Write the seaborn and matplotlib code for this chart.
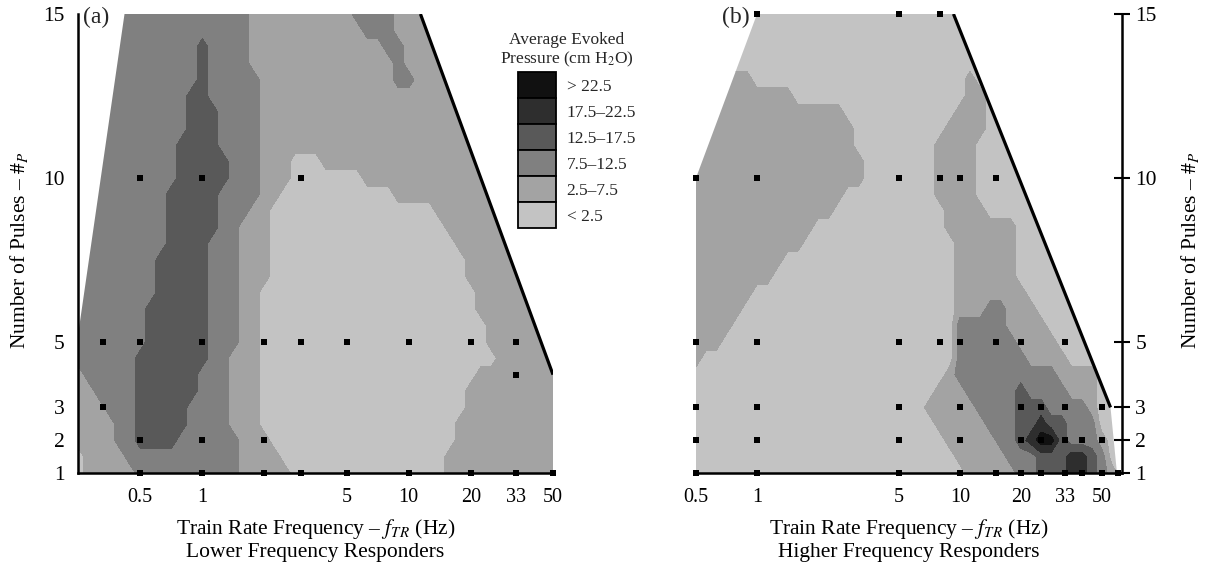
import numpy as np
import pandas as pd
import matplotlib
matplotlib.use("Agg")
import matplotlib.pyplot as plt
from matplotlib.patches import Polygon, Patch
from matplotlib.ticker import NullLocator
import seaborn as sns

sns.set_theme(style="white")
plt.rcParams["font.family"] = ["Liberation Serif", "DejaVu Serif"]
plt.rcParams["mathtext.fontset"] = "stix"

# ---------------- data ----------------
legend_labels = ["> 22.5", "17.5–22.5", "12.5–17.5", "7.5–12.5", "2.5–7.5", "< 2.5"]
pressure_bounds = [-5, 2.5, 7.5, 12.5, 17.5, 22.5, 30]
class_pressure = [0.0, 5.0, 10.0, 15.0, 20.0, 25.0]   # pressure class 0..5 (cm H2O)
gray_levels = ["#c3c3c3", "#a3a3a3", "#808080", "#595959", "#2e2e2e", "#111111"]

x_ticks = [0.5, 1, 5, 10, 20, 33, 50]
x_ticklabels = ["0.5", "1", "5", "10", "20", "33", "50"]
y_ticks = [1, 2, 3, 5, 10, 15]

grid_pulses = np.linspace(15, 1, 29)                 # rows, top to bottom
grid_freq_a = 10 ** np.linspace(-0.60, 1.70, 47)     # columns, panel (a)
grid_freq_b = 10 ** np.linspace(-0.30, 1.80, 43)     # columns, panel (b)

# pressure class read at each grid node (row = number of pulses, col = frequency)
pressure_class_a = [
    "2"*17 + "1"*10 + "2"*4 + "1"*16,
    "2"*17 + "1"*11 + "2"*3 + "1"*16,
    "2"*12 + "3" + "2"*4 + "1"*13 + "2"*2 + "1"*15,
    "2"*12 + "3" + "2"*4 + "1"*14 + "2" + "1"*15,
    "2"*12 + "3" + "2"*5 + "1"*13 + "2"*2 + "1"*14,
    "2"*11 + "3"*2 + "2"*5 + "1"*29,
    "2"*11 + "3"*3 + "2"*4 + "1"*29,
    "2"*11 + "3"*3 + "2"*4 + "1"*29,
    "2"*10 + "3"*4 + "2"*4 + "1"*29,
    "2"*10 + "3"*5 + "2"*3 + "1"*3 + "0"*3 + "1"*23,
    "2"*10 + "3"*5 + "2"*3 + "1"*3 + "0"*7 + "1"*19,
    "2"*9 + "3"*5 + "2"*4 + "1"*2 + "0"*11 + "1"*16,
    "2"*9 + "3"*5 + "2"*3 + "1"*2 + "0"*16 + "1"*12,
    "2"*9 + "3"*5 + "2"*2 + "1"*3 + "0"*17 + "1"*11,
    "2"*9 + "3"*4 + "2"*3 + "1"*3 + "0"*18 + "1"*10,
    "2"*8 + "3"*5 + "2"*3 + "1"*3 + "0"*19 + "1"*9,
    "2"*8 + "3"*5 + "2"*3 + "1"*3 + "0"*19 + "1"*9,
    "2"*8 + "3"*5 + "2"*3 + "1"*2 + "0"*21 + "1"*8,
    "2"*7 + "3"*6 + "2"*3 + "1"*2 + "0"*21 + "1"*8,
    "2"*7 + "3"*6 + "2"*3 + "1"*2 + "0"*22 + "1"*7,
    "2"*7 + "3"*6 + "2"*3 + "1"*2 + "0"*22 + "1"*7,
    "2"*6 + "3"*7 + "2"*2 + "1"*3 + "0"*23 + "1"*6,
    "1" + "2"*5 + "3"*6 + "2"*3 + "1"*3 + "0"*21 + "1"*8,
    "1"*2 + "2"*4 + "3"*6 + "2"*3 + "1"*3 + "0"*20 + "1"*9,
    "1"*3 + "2"*3 + "3"*5 + "2"*4 + "1"*3 + "0"*20 + "1"*9,
    "1"*4 + "2"*2 + "3"*5 + "2"*4 + "1"*3 + "0"*19 + "1"*10,
    "1"*4 + "2"*2 + "3"*4 + "2"*6 + "1"*3 + "0"*18 + "1"*10,
    "0" + "1"*4 + "2"*11 + "1"*4 + "0"*16 + "1"*11,
    "0" + "1"*5 + "2"*10 + "1"*5 + "0"*15 + "1"*11,
]
pressure_class_b = [
    "0"*43, "0"*43, "0"*43, "0"*43,
    "1"*6 + "0"*21 + "1" + "0"*15,
    "1"*10 + "0"*17 + "1"*2 + "0"*14,
    "1"*15 + "0"*11 + "1"*3 + "0"*14,
    "1"*16 + "0"*9 + "1"*4 + "0"*14,
    "1"*16 + "0"*8 + "1"*4 + "0"*15,
    "1"*17 + "0"*7 + "1"*4 + "0"*15,
    "1"*17 + "0"*7 + "1"*4 + "0"*15,
    "1"*15 + "0"*9 + "1"*4 + "0"*15,
    "1"*14 + "0"*11 + "1"*4 + "0"*14,
    "1"*12 + "0"*13 + "1"*7 + "0"*11,
    "1"*11 + "0"*15 + "1"*6 + "0"*11,
    "1"*9 + "0"*17 + "1"*6 + "0"*11,
    "1"*8 + "0"*18 + "1"*6 + "0"*11,
    "1"*6 + "0"*20 + "1"*7 + "0"*10,
    "1"*5 + "0"*21 + "1"*3 + "2"*2 + "1"*3 + "0"*9,
    "1"*4 + "0"*22 + "2"*5 + "1"*4 + "0"*8,
    "1"*3 + "0"*23 + "2"*6 + "1"*4 + "0"*7,
    "1" + "0"*25 + "2"*7 + "1"*4 + "0"*6,
    "0"*25 + "1" + "2"*10 + "1"*4 + "0"*3,
    "0"*24 + "1"*3 + "2"*5 + "3" + "2"*4 + "1"*3 + "0"*3,
    "0"*23 + "1"*5 + "2"*4 + "3"*3 + "2"*4 + "1" + "0"*3,
    "0"*24 + "1"*5 + "2"*3 + "3"*2 + "4" + "3"*2 + "2"*3 + "0"*3,
    "0"*25 + "1"*5 + "2"*2 + "3" + "4" + "5"*2 + "3" + "2"*3 + "1" + "0"*2,
    "0"*26 + "1"*5 + "2"*3 + "3"*3 + "4"*2 + "3" + "2" + "0"*2,
    "0"*27 + "1"*5 + "2"*2 + "3"*3 + "4"*2 + "3" + "2" + "1" + "0",
]

# tested parameter region (hull) and the upper stimulation limit line
hull_a_freq = [0.42, 0.25, 0.25, 50, 50, 11.4]
hull_a_pulses = [15, 5.2, 1, 1, 4.0, 15]
limit_a_freq = [11.4, 50]
limit_a_pulses = [15, 4.0]
hull_b_freq = [1.0, 0.5, 0.5, 59.5, 55.3, 9.3]
hull_b_pulses = [15, 10, 1, 1, 3, 15]
limit_b_freq = [9.3, 55.3]
limit_b_pulses = [15, 3]

# tested stimulation points: pulses -> frequencies
samples_a = {
    10: [0.5, 1, 3],
    5: [0.33, 0.5, 1, 2, 3, 5, 10, 20, 33],
    4: [33],
    3: [0.33],
    2: [0.5, 1, 2],
    1: [0.5, 1, 2, 3, 5, 10, 20, 33, 50],
}
samples_b = {
    15: [1, 5, 8],
    10: [0.5, 1, 5, 8, 10, 15],
    5: [0.5, 1, 5, 8, 10, 15, 20, 33],
    3: [0.5, 1, 5, 10, 20, 25, 33, 50],
    2: [0.5, 1, 5, 10, 20, 25, 33, 40, 50],
    1: [0.5, 1, 5, 10, 15, 20, 25, 33, 40, 50, 60],
}

# ---------------- figure ----------------
W, H = 1209, 574
fig = plt.figure(figsize=(W / 100, H / 100), dpi=100)
fig.patch.set_facecolor("white")
ax_a = fig.add_axes([78 / W, 1 - 473 / H, (553 - 78) / W, (473 - 14) / H])
ax_b = fig.add_axes([696 / W, 1 - 473 / H, (1122 - 696) / W, (473 - 14) / H])


def draw_panel(ax, freqs, rows, hull_f, hull_p, lim_f, lim_p, samples, xlim):
    ax.set_xscale("log")
    Z = np.array([[class_pressure[int(c)] for c in row] for row in rows])
    cs = ax.contourf(freqs, grid_pulses[::-1], Z[::-1], levels=pressure_bounds,
                     colors=gray_levels, zorder=1, antialiased=False)
    clip = Polygon(np.column_stack([hull_f, hull_p]), closed=True,
                   transform=ax.transData, facecolor="none", edgecolor="none")
    ax.add_patch(clip)
    cs.set_clip_path(clip)
    ax.plot(lim_f, lim_p, color="black", lw=2.3, solid_capstyle="butt", zorder=3)
    df = pd.DataFrame([(f, p) for p, fs in samples.items() for f in fs],
                      columns=["freq", "pulses"])
    sns.scatterplot(data=df, x="freq", y="pulses", marker="s", color="black",
                    s=16, linewidth=0, ax=ax, zorder=5, clip_on=False, legend=False)
    ax.set_xlim(*xlim)
    ax.set_ylim(1, 15)
    ax.set_xticks(x_ticks)
    ax.set_xticklabels(x_ticklabels)
    ax.xaxis.set_minor_locator(NullLocator())
    ax.set_yticks(y_ticks)
    ax.set_yticklabels([str(v) for v in y_ticks])
    ax.tick_params(axis="x", length=0, labelsize=14.5, pad=11, colors="black")
    ax.tick_params(axis="y", direction="inout", length=12, width=1.5,
                   labelsize=15.5, colors="black")
    ax.set_facecolor("white")
    ax.grid(False)
    for s in ax.spines.values():
        s.set_linewidth(1.8)
        s.set_color("black")
    ax.set_ylabel("")


draw_panel(ax_a, grid_freq_a, pressure_class_a, hull_a_freq, hull_a_pulses,
           limit_a_freq, limit_a_pulses, samples_a, (0.25, 50))
draw_panel(ax_b, grid_freq_b, pressure_class_b, hull_b_freq, hull_b_pulses,
           limit_b_freq, limit_b_pulses, samples_b, (0.5, 63))

ax_a.spines["top"].set_visible(False)
ax_a.spines["right"].set_visible(False)
ax_b.spines["top"].set_visible(False)
ax_b.spines["left"].set_visible(False)
ax_b.yaxis.tick_right()
ax_b.tick_params(axis="y", left=False, right=True, labelleft=False, labelright=True)

ylab = r"Number of Pulses – $\#_{P}$"
ax_a.set_ylabel(ylab, fontsize=15.5, color="black")
ax_a.yaxis.set_label_coords(-0.101, 0.486)
ax_b.yaxis.set_label_position("right")
ax_b.set_ylabel(ylab, fontsize=15.5, color="black", rotation=90)
ax_b.yaxis.set_label_coords(1.134, 0.486)

ax_a.set_xlabel("Train Rate Frequency – $f_{TR}$ (Hz)\nLower Frequency Responders",
                fontsize=15.5, linespacing=1.12, labelpad=7, color="black")
ax_b.set_xlabel("Train Rate Frequency – $f_{TR}$ (Hz)\nHigher Frequency Responders",
                fontsize=15.5, linespacing=1.12, labelpad=7, color="black")

fig.text(83 / W, 1 - 17 / H, "(a)", ha="left", va="center", fontsize=17)
fig.text(722 / W, 1 - 17 / H, "(b)", ha="left", va="center", fontsize=17)

# legend
fig.text(567 / W, 1 - 69 / H, "Average Evoked\nPressure (cm H$_2$O)", ha="center",
         va="bottom", fontsize=12.5, linespacing=1.15)
handles = [Patch(facecolor=c, edgecolor="black", linewidth=1.3) for c in gray_levels[::-1]]
fig.legend(handles, legend_labels, loc="upper left",
           bbox_to_anchor=(518 / W, 1 - 72 / H), frameon=False, fontsize=12.5,
           handlelength=2.2, handleheight=1.93, labelspacing=0, handletextpad=0.6,
           borderpad=0, borderaxespad=0)

fig.savefig("out.png", dpi=100, facecolor="white")
